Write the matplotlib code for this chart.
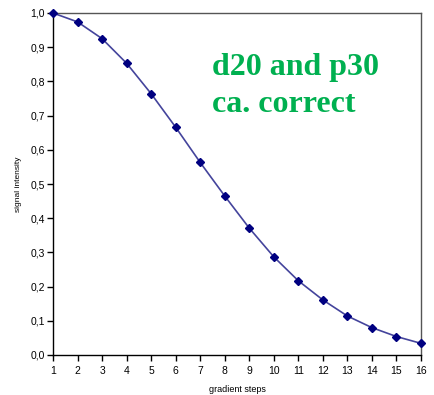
import matplotlib
matplotlib.use("Agg")
import matplotlib.pyplot as plt

steps = list(range(1, 17))
intensity = [1.000, 0.974, 0.925, 0.853, 0.764, 0.666, 0.563, 0.465,
             0.371, 0.287, 0.217, 0.161, 0.114, 0.080, 0.054, 0.034]
ytick_labels = ["0,0", "0,1", "0,2", "0,3", "0,4", "0,5", "0,6", "0,7", "0,8", "0,9", "1,0"]
yticks = [i / 10 for i in range(11)]
note = "d20 and p30\nca. correct"

plt.rcParams['font.family'] = ['Liberation Sans', 'DejaVu Sans']

fig = plt.figure(figsize=(4.35, 3.95), dpi=100)
ax = fig.add_axes([53 / 435, 1 - 355 / 395, 368 / 435, 342 / 395])

ax.plot(steps, intensity, color="#44449c", lw=1.2, marker="D", markersize=4.5,
        markerfacecolor="#000080", markeredgecolor="#000080", clip_on=False, zorder=3)

ax.set_xlim(1, 16)
ax.set_ylim(0, 1)
ax.set_xticks(steps)
ax.set_xticklabels([str(s) for s in steps])
ax.set_yticks(yticks)
ax.set_yticklabels(ytick_labels)
ax.tick_params(axis="both", direction="out", length=4, width=1, labelsize=7.5, colors="black")
ax.tick_params(axis="x", pad=4)
ax.tick_params(axis="y", pad=2)

for s in ["left", "bottom"]:
    ax.spines[s].set_color("black")
    ax.spines[s].set_linewidth(1)
for s in ["top", "right"]:
    ax.spines[s].set_color("#555555")
    ax.spines[s].set_linewidth(1)

ax.set_xlabel("gradient steps", fontsize=6.5, labelpad=6.5)
ax.set_ylabel("signal intensity", fontsize=6, labelpad=6)

fig.text(212 / 435, 1 - 53 / 395, note, color="#00b050", fontsize=23,
         fontweight="bold", family=["Liberation Serif", "DejaVu Serif"],
         va="top", ha="left", linespacing=1.38)

fig.savefig("out.png", dpi=100)
